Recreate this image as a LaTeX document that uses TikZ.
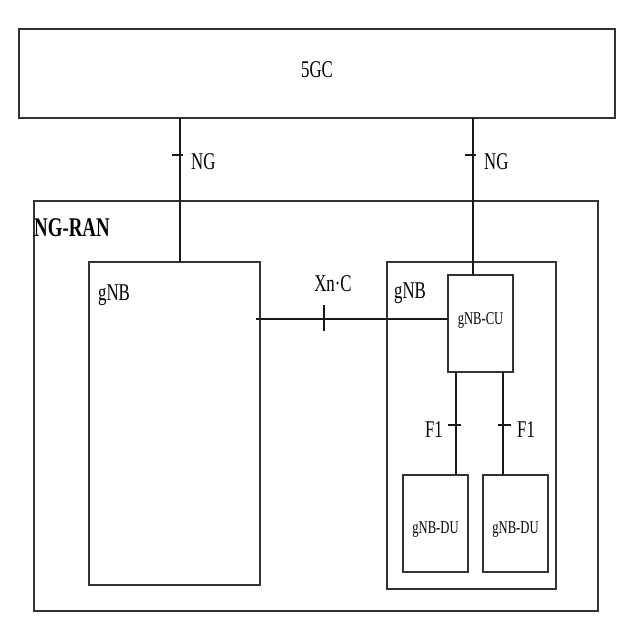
\documentclass[tikz,border=0pt]{standalone}
\usepackage{fontspec}
\setmainfont{Liberation Serif}[FakeStretch=0.7]
\usetikzlibrary{calc}
\begin{document}
\begin{tikzpicture}[x=1pt,y=-1pt,
  box/.style={draw=black!80,line width=1.4pt,rectangle,inner sep=0pt,outer sep=0pt,anchor=north west},
  conn/.style={draw=black!90,line width=1.1pt},
  lbl/.style={inner sep=0pt,font=\fontsize{24}{26}\selectfont},
  small/.style={inner sep=0pt,font=\fontsize{18}{20}\selectfont}]
\useasboundingbox[fill=white] (0,0) rectangle (640,640);
% boxes
\node[box,minimum width=596pt,minimum height=89pt] (core) at (19,29) {};
\node[lbl] (coret) at ($(core.center)+(0,-4)$) {5GC};
\node[box,minimum width=564pt,minimum height=410pt] (ran) at (34,201) {};
\node[inner sep=0pt,anchor=west,font=\fontsize{27}{29}\selectfont\bfseries] (rant) at (34,228) {NG-RAN};
\node[box,minimum width=171pt,minimum height=323pt] (gnbL) at (89,262) {};
\node[lbl,anchor=west] (gnbLt) at (98,295) {gNB};
\node[box,minimum width=169pt,minimum height=327pt] (gnbR) at (387,262) {};
\node[lbl,anchor=west] (gnbRt) at (394,293) {gNB};
\node[box,minimum width=65pt,minimum height=97pt] (cu) at (448,275) {};
\node[small] (cut) at (480.5,320) {gNB-CU};
\node[box,minimum width=65pt,minimum height=97pt] (du1) at (403,475) {};
\node[small] (du1t) at (435.5,530) {gNB-DU};
\node[box,minimum width=65pt,minimum height=97pt] (du2) at (483,475) {};
\node[small] (du2t) at (515.5,530) {gNB-DU};
% connector positions
\coordinate (ngL) at (180,0);
\coordinate (ngR) at (473,0);
\coordinate (f1L) at (456,0);
\coordinate (f1R) at (503,0);
\coordinate (xnY) at (0,319);
\coordinate (xnS) at ($(gnbL.east |- xnY)+(-4,0)$);
% NG connectors
\draw[conn] (core.south -| ngL) -- (gnbL.north -| ngL);
\draw[conn] (core.south -| ngR) -- (cu.north -| ngR);
\coordinate (tk1) at (180,155);
\coordinate (tk2) at (473,155);
\draw[conn] ([xshift=-8]tk1) -- ([xshift=3]tk1);
\draw[conn] ([xshift=-8]tk2) -- ([xshift=3]tk2);
\node[lbl,anchor=west] (ng1) at (191,162) {NG};
\node[lbl,anchor=west] (ng2) at (484,162) {NG};
% Xn-C
\draw[conn] (xnS) -- (cu.west |- xnY);
\coordinate (tk3) at (324,319);
\draw[conn] ([yshift=-12]tk3) -- ([yshift=14]tk3);
\node[lbl] (xn) at (333,284) {Xn·C};
% F1
\draw[conn] (cu.south -| f1L) -- (du1.north -| f1L);
\draw[conn] (cu.south -| f1R) -- (du2.north -| f1R);
\coordinate (tk4) at (456,425);
\coordinate (tk5) at (503,425);
\draw[conn] ([xshift=-8]tk4) -- ([xshift=5]tk4);
\draw[conn] ([xshift=-5]tk5) -- ([xshift=8]tk5);
\node[lbl,anchor=east] (f1a) at (443,430) {F1};
\node[lbl,anchor=west] (f1b) at (517,430) {F1};
\end{tikzpicture}
\end{document}
